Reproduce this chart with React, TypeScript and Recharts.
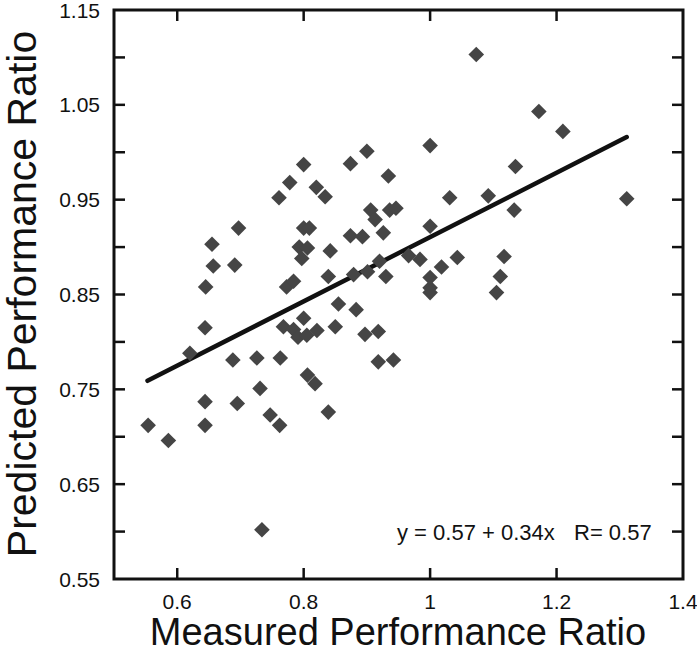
import { ScatterChart, Scatter, XAxis, YAxis, ReferenceLine, ReferenceArea } from "recharts";

const measured = [
  0.554, 0.586, 0.62, 0.644, 0.644, 0.644, 0.645, 0.655, 0.657, 0.688,
  0.695, 0.691, 0.697, 0.726, 0.731, 0.734, 0.747, 0.762, 0.763, 0.761,
  0.778, 0.8, 0.773, 0.784, 0.768, 0.784, 0.8, 0.791, 0.805, 0.806,
  0.818, 0.839, 0.821, 0.85, 0.855, 0.883, 0.897, 0.918, 0.918, 0.942,
  0.8, 0.809, 0.793, 0.806, 0.797, 0.842, 0.839, 0.82, 0.834, 0.874,
  0.9, 0.934, 0.874, 0.893, 0.906, 0.913, 0.926, 0.936, 0.946, 0.92,
  0.879, 0.901, 0.93, 0.966, 0.984, 1.0, 1.0, 1.0, 1.0, 1.0,
  1.018, 1.031, 1.043, 1.073, 1.092, 1.105, 1.111, 1.117, 1.133, 1.135,
  1.172, 1.21, 1.311,
];
const predicted = [
  0.712, 0.696, 0.788, 0.737, 0.712, 0.815, 0.858, 0.903, 0.88, 0.781,
  0.735, 0.881, 0.92, 0.783, 0.751, 0.602, 0.723, 0.712, 0.783, 0.952,
  0.968, 0.987, 0.858, 0.864, 0.816, 0.813, 0.825, 0.805, 0.807, 0.765,
  0.756, 0.726, 0.812, 0.816, 0.84, 0.834, 0.808, 0.811, 0.779, 0.781,
  0.92, 0.92, 0.9, 0.899, 0.888, 0.896, 0.869, 0.963, 0.953, 0.988,
  1.001, 0.975, 0.912, 0.911, 0.939, 0.929, 0.915, 0.939, 0.941, 0.885,
  0.871, 0.874, 0.869, 0.891, 0.887, 1.007, 0.922, 0.868, 0.857, 0.852,
  0.879, 0.952, 0.889, 1.103, 0.954, 0.852, 0.869, 0.89, 0.939, 0.985,
  1.043, 1.022, 0.951,
];

// regression line end points
const fitX = [0.553, 1.311];
const fitY = [0.759, 1.016];

const xDomain = [0.5, 1.4];
const yDomain = [0.55, 1.15];
const xTicks = [0.6, 0.8, 1, 1.2, 1.4];
const yTicks = [0.55, 0.6, 0.65, 0.7, 0.75, 0.8, 0.85, 0.9, 0.95, 1.0, 1.05, 1.1, 1.15];
const yTickLabels = ["0.55", "0.65", "0.75", "0.85", "0.95", "1.05", "1.15"];

const FONT = "'Liberation Sans', Arial, Helvetica, sans-serif";
const INK = "#111";

// plot box in pixels (follows from the chart margins and axis sizes below)
const BOX = { left: 114, right: 683, top: 10, bottom: 579 };
const TICK_LEN = 11;

const points = measured.map((x, i) => ({ x, y: predicted[i] }));

const Diamond = (props: any) => {
  const { cx, cy } = props;
  const r = 7.8;
  return (
    <polygon
      points={`${cx},${cy - r} ${cx + r},${cy} ${cx},${cy + r} ${cx - r},${cy}`}
      fill="#454545"
    />
  );
};

// inward tick marks on bottom and top, plus the label under the box
const XTick = (props: any) => {
  const { x, payload } = props;
  const v = payload.value as number;
  const inside = v > xDomain[0] && v < xDomain[1];
  return (
    <g>
      {inside && (
        <>
          <line x1={x} x2={x} y1={BOX.bottom} y2={BOX.bottom - TICK_LEN} stroke={INK} strokeWidth={2.5} />
          <line x1={x} x2={x} y1={BOX.top} y2={BOX.top + TICK_LEN} stroke={INK} strokeWidth={2.5} />
        </>
      )}
      <text x={x} y={609} textAnchor="middle" fontSize={21} fontFamily={FONT} fill={INK}>
        {String(v)}
      </text>
    </g>
  );
};

// inward tick marks on left and right, labels every 0.1
const YTick = (props: any) => {
  const { y, payload } = props;
  const v = payload.value as number;
  const s = v.toFixed(2);
  const inside = v > yDomain[0] && v < yDomain[1];
  return (
    <g>
      {inside && (
        <>
          <line x1={BOX.left} x2={BOX.left + TICK_LEN} y1={y} y2={y} stroke={INK} strokeWidth={2.5} />
          <line x1={BOX.right} x2={BOX.right - TICK_LEN} y1={y} y2={y} stroke={INK} strokeWidth={2.5} />
        </>
      )}
      {yTickLabels.includes(s) && (
        <text x={100} y={y + 7.5} textAnchor="end" fontSize={21} fontFamily={FONT} fill={INK}>
          {s}
        </text>
      )}
    </g>
  );
};

export default function App() {
  return (
    <div style={{ position: "absolute", left: 0, top: 0 }}>
      <ScatterChart
        width={697}
        height={653}
        margin={{ top: 10, right: 14, bottom: 44, left: 54 }}
      >
        <XAxis
          dataKey="x"
          type="number"
          domain={xDomain}
          ticks={xTicks}
          allowDataOverflow
          height={30}
          axisLine={false}
          tickLine={false}
          tick={<XTick />}
          interval={0}
        />
        <YAxis
          dataKey="y"
          type="number"
          domain={yDomain}
          ticks={yTicks}
          allowDataOverflow
          width={60}
          axisLine={false}
          tickLine={false}
          tick={<YTick />}
          interval={0}
        />
        <ReferenceArea
          x1={xDomain[0]}
          x2={xDomain[1]}
          y1={yDomain[0]}
          y2={yDomain[1]}
          fill="none"
          fillOpacity={0}
          stroke={INK}
          strokeWidth={3}
          strokeOpacity={1}
        />
        <Scatter
          data={points}
          shape={Diamond}
          isAnimationActive={false}
        />
        <ReferenceLine
          segment={[
            { x: fitX[0], y: fitY[0] },
            { x: fitX[1], y: fitY[1] },
          ]}
          stroke={INK}
          strokeWidth={4.5}
          strokeLinecap="round"
        />
        <text x={397} y={540} fontSize={22} fontFamily={FONT} fill={INK}>
          <tspan x={397}>y = 0.57 + 0.34x</tspan>
          <tspan x={574}>R= 0.57</tspan>
        </text>
        <text
          x={398}
          y={645}
          textAnchor="middle"
          fontSize={38}
          fontFamily={FONT}
          fill={INK}
        >
          Measured Performance Ratio
        </text>
        <text
          x={36}
          y={294}
          transform="rotate(-90, 36, 294)"
          textAnchor="middle"
          fontSize={41}
          fontFamily={FONT}
          fill={INK}
        >
          Predicted Performance Ratio
        </text>
      </ScatterChart>
    </div>
  );
}
